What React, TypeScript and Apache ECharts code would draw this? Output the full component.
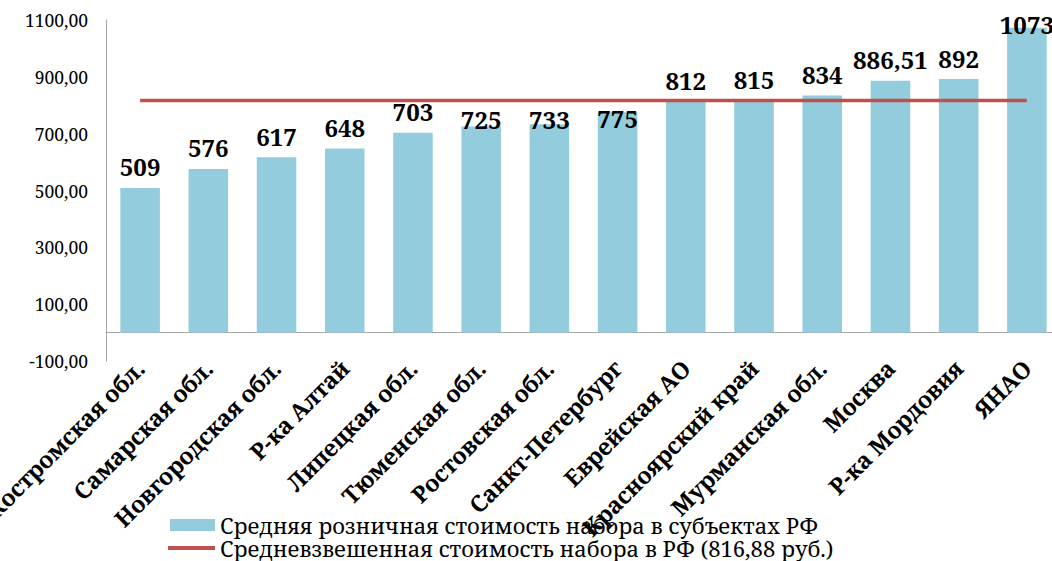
import React, { useEffect, useRef } from "react";
import * as echarts from "echarts";

const categories = [
  "Костромская обл.",
  "Самарская обл.",
  "Новгородская обл.",
  "Р-ка Алтай",
  "Липецкая обл.",
  "Тюменская обл.",
  "Ростовская обл.",
  "Санкт-Петербург",
  "Еврейская АО",
  "Красноярский край",
  "Мурманская обл.",
  "Москва",
  "Р-ка Мордовия",
  "ЯНАО",
];

const retailCost = [509, 576, 617, 648, 703, 725, 733, 775, 812, 815, 834, 886.51, 892, 1073];

const weightedAverage = 816.88;

const barSeriesName = "Средняя розничная стоимость набора в субъектах РФ";
const lineSeriesName = "Средневзвешенная стоимость набора в РФ (816,88 руб.)";

const yMin = -100;
const yMax = 1100;
const yInterval = 200;

// manual label nudges (px, downward) copied from the picture's label placement
const labelNudge: Record<number, number> = { 5: 14, 6: 16, 7: 27, 13: 18 };

const serif = "Noto Serif, DejaVu Serif, serif";

const fmtComma = (v: number) => v.toFixed(2).replace(".", ",");

export default function App() {
  const ref = useRef<HTMLDivElement>(null);

  useEffect(() => {
    document.body.style.margin = "0";
    document.body.style.overflow = "hidden";
    if (!ref.current) return;
    const chart = echarts.init(ref.current, undefined, { renderer: "svg" });

    const barData = retailCost.map((v, i) => {
      const item: any = { value: v };
      if (labelNudge[i]) item.label = { offset: [0, labelNudge[i]] };
      return item;
    });

    const legendText = { fontFamily: serif, fontSize: 22, color: "#000" };

    chart.setOption({
      animation: false,
      backgroundColor: "#ffffff",
      textStyle: { fontFamily: serif },
      grid: {
        left: 106,
        right: 0,
        top: 20,
        bottom: 200,
        containLabel: false,
        outerBoundsMode: "none",
      },
      legend: [
        {
          orient: "vertical",
          left: 165,
          top: 509,
          itemWidth: 45,
          itemHeight: 12,
          itemGap: 0,
          textStyle: legendText,
          data: [{ name: barSeriesName, icon: "rect" }],
        },
        {
          orient: "vertical",
          left: 163,
          top: 532,
          itemWidth: 47,
          itemHeight: 4,
          itemGap: 0,
          textStyle: legendText,
          data: [{ name: lineSeriesName, icon: "rect" }],
        },
      ],
      xAxis: {
        type: "category",
        data: categories,
        axisLine: { show: true, onZero: true, lineStyle: { color: "#a6a6a6", width: 1 } },
        axisTick: { show: false },
        axisLabel: {
          interval: 0,
          rotate: 45,
          margin: 3,
          fontFamily: serif,
          fontSize: 23,
          fontWeight: "bold",
          color: "#000",
        },
      },
      yAxis: {
        type: "value",
        min: yMin,
        max: yMax,
        interval: yInterval,
        axisLine: { show: true, lineStyle: { color: "#a6a6a6", width: 1 } },
        axisTick: { show: false },
        splitLine: { show: false },
        axisLabel: {
          formatter: (v: number) => fmtComma(v),
          fontFamily: serif,
          fontSize: 17.5,
          color: "#000",
          margin: 18,
        },
      },
      series: [
        {
          name: barSeriesName,
          type: "bar",
          data: barData,
          barWidth: "58%",
          itemStyle: { color: "#93CDDD" },
          label: {
            show: true,
            position: "top",
            distance: 9,
            fontFamily: serif,
            fontSize: 24,
            fontWeight: "bold",
            color: "#000",
            formatter: (p: any) =>
              Number.isInteger(p.value) ? String(p.value) : fmtComma(p.value),
          },
        },
        {
          name: lineSeriesName,
          type: "line",
          data: categories.map(() => weightedAverage),
          symbol: "none",
          lineStyle: { color: "#C0504D", width: 3.5 },
          itemStyle: { color: "#C0504D" },
        },
      ],
      graphic: [
        {
          type: "text",
          left: 925,
          top: -25,
          style: { text: "руб.", fontFamily: serif, fontSize: 22, fill: "#000" },
        },
      ],
    });

    return () => chart.dispose();
  }, []);

  return <div ref={ref} style={{ width: 1061, height: 561 }} />;
}
